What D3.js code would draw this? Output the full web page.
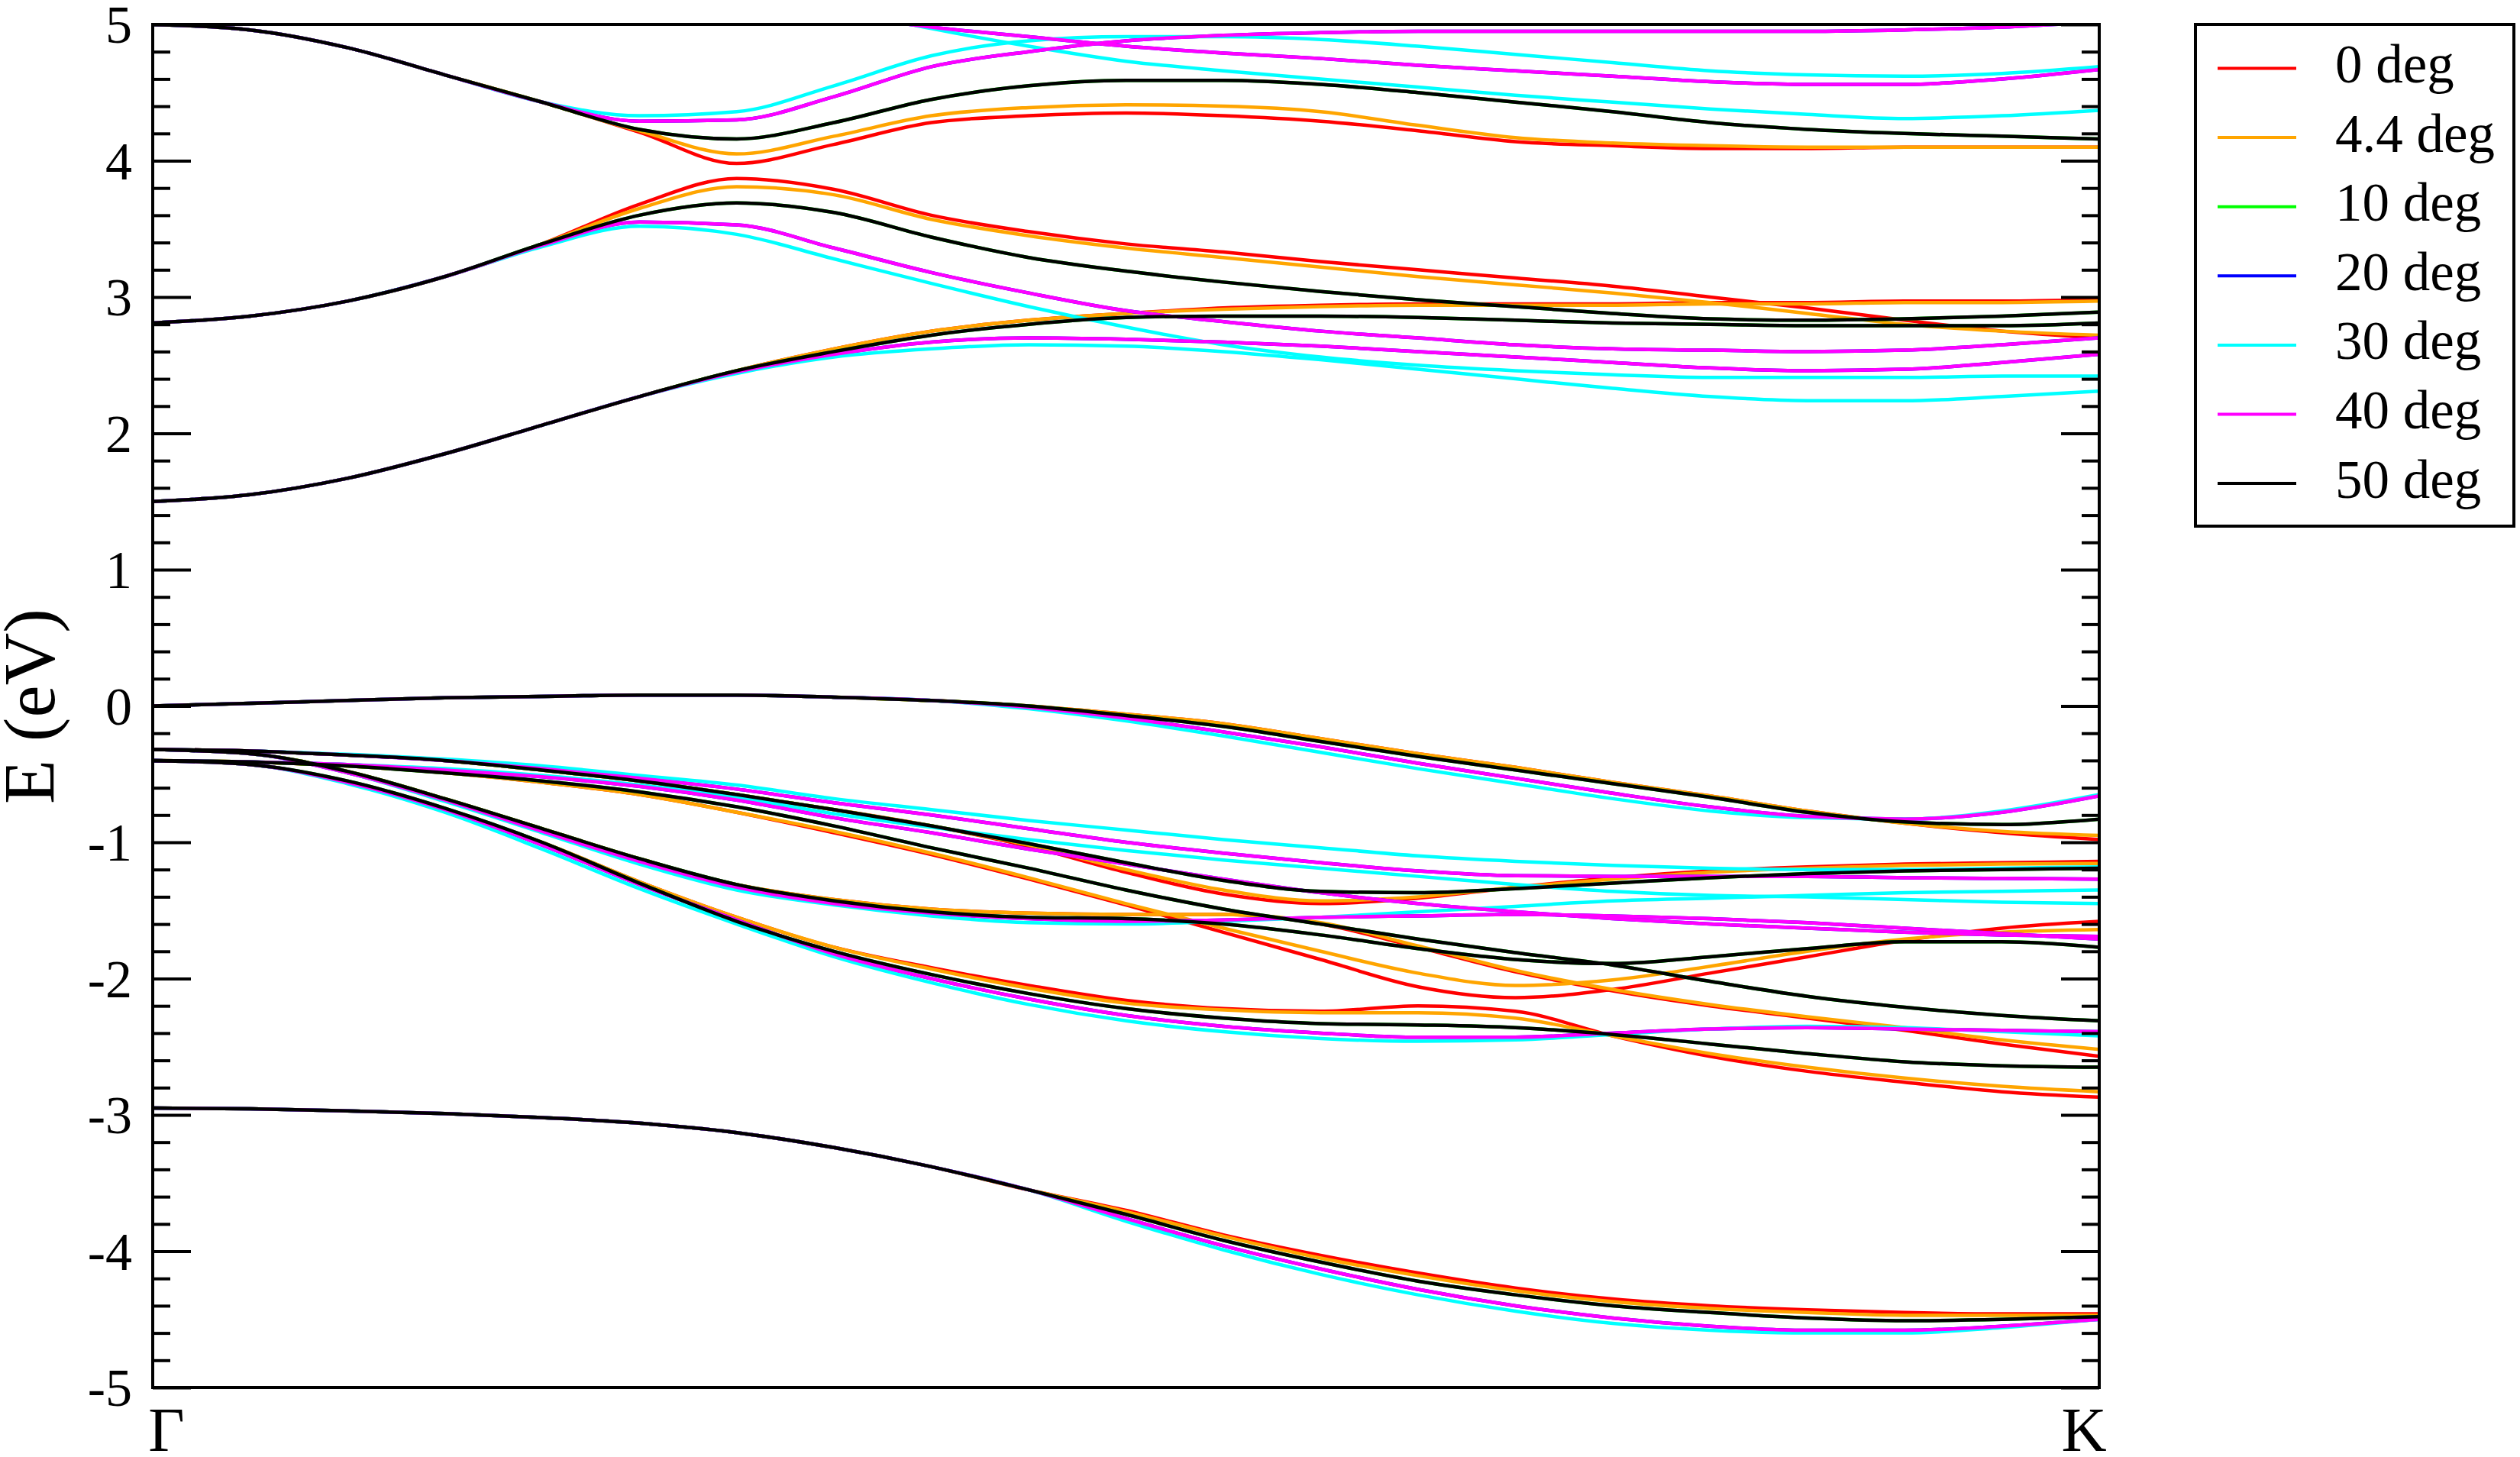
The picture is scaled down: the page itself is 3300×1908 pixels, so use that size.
<!DOCTYPE html>
<html>
<head>
<meta charset="utf-8">
<script src="https://cdn.jsdelivr.net/npm/d3@7"></script>
<style>
  html, body { margin: 0; padding: 0; background: #ffffff; }
  svg { display: block; }
</style>
</head>
<body>
<svg id="chart" width="3300" height="1908"></svg>
<script>
// ---------------- DATA ----------------
// k-path coordinate (Γ = 0, K = 1)
const kPath = [0, 0.05, 0.1, 0.15, 0.2, 0.25, 0.3, 0.35, 0.4, 0.45, 0.5,
               0.55, 0.6, 0.65, 0.7, 0.75, 0.8, 0.85, 0.9, 0.95, 1];
const kTickPositions = [0, 1];
const kTickLabels = ["Γ", "K"];
const yMajorTicks = [-5, -4, -3, -2, -1, 0, 1, 2, 3, 4, 5];
const yLabel = "E (eV)";

const seriesNames = ["0 deg", "4.4 deg", "10 deg", "20 deg", "30 deg", "40 deg", "50 deg"];
const seriesColors = ["#ff0000", "#ffa500", "#00ff00", "#0000ff", "#00ffff", "#ff00ff", "#000000"];

// Bands (eV) sampled on kPath, per twist angle
const bands0deg = [
  [-2.95,-2.955,-2.97,-2.99,-3.02,-3.06,-3.13,-3.24,-3.38,-3.55,-3.70,-3.88,-4.03,-4.16,-4.27,-4.35,-4.40,-4.43,-4.45,-4.46,-4.46],
  [-0.40,-0.43,-0.56,-0.76,-1.00,-1.29,-1.55,-1.77,-1.92,-2.05,-2.16,-2.22,-2.24,-2.20,-2.24,-2.42,-2.57,-2.68,-2.76,-2.83,-2.87],
  [-0.32,-0.35,-0.48,-0.68,-0.90,-1.12,-1.31,-1.42,-1.49,-1.52,-1.53,-1.53,-1.60,-1.77,-1.95,-2.09,-2.20,-2.29,-2.38,-2.48,-2.57],
  [-0.40,-0.41,-0.44,-0.49,-0.56,-0.65,-0.78,-0.93,-1.09,-1.27,-1.46,-1.66,-1.86,-2.06,-2.14,-2.08,-1.96,-1.84,-1.72,-1.63,-1.58],
  [-0.32,-0.33,-0.36,-0.40,-0.47,-0.55,-0.65,-0.76,-0.88,-1.03,-1.22,-1.38,-1.45,-1.41,-1.33,-1.26,-1.21,-1.18,-1.16,-1.15,-1.14],
  [0.00,0.02,0.04,0.06,0.07,0.08,0.08,0.065,0.04,0.00,-0.06,-0.13,-0.24,-0.35,-0.45,-0.56,-0.66,-0.77,-0.86,-0.93,-0.98],
  [1.50,1.55,1.67,1.85,2.06,2.27,2.46,2.62,2.75,2.83,2.88,2.92,2.94,2.95,2.95,2.95,2.96,2.96,2.97,2.97,2.98],
  [2.81,2.86,2.97,3.15,3.39,3.68,3.87,3.79,3.60,3.48,3.39,3.33,3.26,3.20,3.14,3.08,3.00,2.92,2.83,2.75,2.70],
  [5.00,4.96,4.83,4.63,4.43,4.21,3.98,4.12,4.28,4.33,4.35,4.33,4.29,4.22,4.14,4.11,4.09,4.09,4.10,4.10,4.10]
];
const bands4p4deg = [
  [-2.95,-2.955,-2.97,-2.99,-3.02,-3.06,-3.13,-3.24,-3.38,-3.55,-3.71,-3.89,-4.05,-4.18,-4.29,-4.37,-4.42,-4.45,-4.47,-4.47,-4.47],
  [-0.40,-0.43,-0.56,-0.76,-1.00,-1.29,-1.55,-1.77,-1.93,-2.07,-2.18,-2.23,-2.25,-2.25,-2.29,-2.42,-2.55,-2.65,-2.73,-2.79,-2.83],
  [-0.32,-0.35,-0.48,-0.68,-0.90,-1.12,-1.31,-1.42,-1.49,-1.52,-1.53,-1.53,-1.59,-1.76,-1.94,-2.08,-2.19,-2.28,-2.36,-2.45,-2.52],
  [-0.40,-0.41,-0.44,-0.49,-0.56,-0.65,-0.78,-0.92,-1.08,-1.26,-1.45,-1.63,-1.80,-1.96,-2.05,-2.01,-1.91,-1.80,-1.71,-1.66,-1.64],
  [-0.32,-0.33,-0.36,-0.40,-0.47,-0.55,-0.65,-0.76,-0.88,-1.02,-1.20,-1.35,-1.43,-1.40,-1.33,-1.27,-1.22,-1.19,-1.17,-1.16,-1.155],
  [0.00,0.02,0.04,0.06,0.07,0.08,0.08,0.065,0.04,0.00,-0.06,-0.13,-0.24,-0.35,-0.45,-0.56,-0.66,-0.77,-0.86,-0.92,-0.95],
  [1.50,1.55,1.67,1.85,2.06,2.27,2.46,2.62,2.75,2.83,2.88,2.91,2.93,2.94,2.94,2.94,2.95,2.95,2.96,2.96,2.97],
  [2.81,2.86,2.97,3.15,3.39,3.65,3.81,3.75,3.57,3.45,3.36,3.29,3.22,3.15,3.09,3.03,2.96,2.88,2.80,2.75,2.72],
  [5.00,4.96,4.83,4.63,4.43,4.22,4.05,4.18,4.33,4.39,4.41,4.40,4.36,4.26,4.17,4.13,4.11,4.10,4.10,4.10,4.10]
];
const bands30deg = [
  [-2.95,-2.955,-2.97,-2.99,-3.02,-3.06,-3.13,-3.24,-3.38,-3.55,-3.78,-3.99,-4.17,-4.32,-4.44,-4.53,-4.58,-4.60,-4.60,-4.56,-4.50],
  [-0.40,-0.43,-0.57,-0.78,-1.05,-1.34,-1.60,-1.84,-2.03,-2.19,-2.31,-2.39,-2.44,-2.46,-2.45,-2.41,-2.37,-2.35,-2.36,-2.39,-2.42],
  [-0.32,-0.35,-0.49,-0.70,-0.93,-1.16,-1.35,-1.46,-1.54,-1.59,-1.60,-1.58,-1.55,-1.51,-1.47,-1.43,-1.41,-1.39,-1.37,-1.36,-1.35],
  [-0.40,-0.41,-0.43,-0.46,-0.51,-0.58,-0.67,-0.79,-0.89,-0.98,-1.06,-1.13,-1.19,-1.25,-1.31,-1.36,-1.39,-1.40,-1.42,-1.44,-1.45],
  [-0.32,-0.33,-0.355,-0.39,-0.44,-0.51,-0.58,-0.68,-0.76,-0.84,-0.91,-0.98,-1.04,-1.10,-1.14,-1.17,-1.19,-1.20,-1.20,-1.19,-1.18],
  [0.00,0.02,0.04,0.06,0.07,0.08,0.08,0.065,0.04,-0.02,-0.11,-0.22,-0.34,-0.46,-0.57,-0.68,-0.77,-0.82,-0.83,-0.77,-0.65],
  [1.50,1.55,1.67,1.85,2.06,2.27,2.44,2.56,2.62,2.65,2.64,2.60,2.54,2.47,2.40,2.33,2.27,2.24,2.24,2.27,2.31],
  [2.81,2.86,2.97,3.15,3.37,3.52,3.46,3.28,3.10,2.93,2.78,2.65,2.56,2.50,2.46,2.43,2.41,2.41,2.41,2.42,2.42],
  [5.00,4.96,4.83,4.63,4.43,4.33,4.36,4.55,4.77,4.88,4.91,4.91,4.89,4.84,4.78,4.72,4.66,4.63,4.62,4.64,4.69],
  [null,null,null,null,null,null,null,5.12,4.97,4.84,4.73,4.66,4.60,4.54,4.48,4.43,4.38,4.34,4.31,4.33,4.37]
];
const bands40deg = [
  [-2.95,-2.955,-2.97,-2.99,-3.02,-3.06,-3.13,-3.24,-3.38,-3.55,-3.76,-3.96,-4.13,-4.28,-4.40,-4.49,-4.55,-4.58,-4.58,-4.55,-4.50],
  [-0.40,-0.43,-0.56,-0.76,-1.02,-1.31,-1.57,-1.82,-2.00,-2.15,-2.27,-2.35,-2.40,-2.43,-2.43,-2.40,-2.37,-2.36,-2.37,-2.38,-2.39],
  [-0.32,-0.35,-0.49,-0.69,-0.92,-1.14,-1.33,-1.45,-1.52,-1.56,-1.58,-1.57,-1.55,-1.54,-1.53,-1.54,-1.56,-1.59,-1.63,-1.67,-1.71],
  [-0.40,-0.41,-0.43,-0.47,-0.52,-0.59,-0.69,-0.82,-0.93,-1.05,-1.16,-1.27,-1.37,-1.45,-1.51,-1.56,-1.60,-1.63,-1.66,-1.68,-1.69],
  [-0.32,-0.33,-0.36,-0.40,-0.46,-0.53,-0.61,-0.71,-0.80,-0.90,-1.00,-1.08,-1.15,-1.21,-1.245,-1.25,-1.25,-1.25,-1.26,-1.265,-1.27],
  [0.00,0.02,0.04,0.06,0.07,0.08,0.08,0.065,0.04,-0.01,-0.09,-0.19,-0.30,-0.42,-0.53,-0.64,-0.74,-0.81,-0.83,-0.78,-0.66],
  [1.50,1.55,1.67,1.85,2.06,2.27,2.45,2.58,2.67,2.70,2.69,2.67,2.64,2.60,2.56,2.52,2.48,2.46,2.47,2.52,2.58],
  [2.81,2.86,2.97,3.15,3.38,3.55,3.53,3.36,3.18,3.03,2.90,2.82,2.75,2.70,2.65,2.62,2.61,2.60,2.61,2.65,2.70],
  [5.00,4.96,4.83,4.63,4.43,4.29,4.30,4.47,4.69,4.80,4.88,4.92,4.94,4.95,4.95,4.95,4.95,4.95,4.96,4.98,5.02],
  [null,null,null,null,null,null,null,5.08,4.98,4.91,4.84,4.79,4.75,4.70,4.66,4.62,4.58,4.56,4.56,4.60,4.67]
];
const bands50deg = [
  [-2.95,-2.955,-2.97,-2.99,-3.02,-3.06,-3.13,-3.24,-3.38,-3.55,-3.73,-3.92,-4.08,-4.22,-4.32,-4.40,-4.45,-4.49,-4.51,-4.50,-4.48],
  [-0.40,-0.43,-0.55,-0.75,-1.00,-1.30,-1.58,-1.80,-1.97,-2.11,-2.22,-2.29,-2.33,-2.34,-2.36,-2.41,-2.48,-2.55,-2.61,-2.64,-2.65],
  [-0.32,-0.35,-0.48,-0.68,-0.90,-1.12,-1.31,-1.43,-1.51,-1.55,-1.56,-1.60,-1.68,-1.78,-1.86,-1.89,-1.84,-1.78,-1.73,-1.73,-1.77],
  [-0.40,-0.41,-0.44,-0.49,-0.55,-0.63,-0.74,-0.88,-1.04,-1.19,-1.35,-1.49,-1.60,-1.71,-1.81,-1.90,-2.02,-2.13,-2.21,-2.27,-2.31],
  [-0.32,-0.33,-0.36,-0.40,-0.47,-0.55,-0.65,-0.76,-0.88,-1.01,-1.15,-1.28,-1.36,-1.37,-1.34,-1.30,-1.26,-1.23,-1.21,-1.20,-1.19],
  [0.00,0.02,0.04,0.06,0.07,0.08,0.08,0.065,0.04,0.00,-0.07,-0.15,-0.26,-0.37,-0.47,-0.57,-0.67,-0.78,-0.85,-0.87,-0.83],
  [1.50,1.55,1.67,1.85,2.06,2.27,2.46,2.60,2.72,2.80,2.85,2.86,2.86,2.85,2.83,2.81,2.80,2.79,2.79,2.79,2.81],
  [2.81,2.86,2.97,3.15,3.39,3.60,3.69,3.62,3.44,3.29,3.19,3.11,3.04,2.98,2.93,2.88,2.84,2.83,2.84,2.86,2.89],
  [5.00,4.96,4.83,4.63,4.43,4.23,4.16,4.28,4.45,4.55,4.59,4.59,4.56,4.50,4.43,4.36,4.28,4.23,4.20,4.18,4.16]
];
// θ and 60°−θ give identical bands: 10° ≡ 50°, 20° ≡ 40° (drawn underneath, hence hidden)
const bands10deg = bands50deg;
const bands20deg = bands40deg;
const seriesBands = [bands0deg, bands4p4deg, bands10deg, bands20deg, bands30deg, bands40deg, bands50deg];

// ---------------- CHART ----------------
const FONT = "'Liberation Serif', 'Times New Roman', Times, serif";
const svg = d3.select("#chart");
svg.append("rect").attr("width", 3300).attr("height", 1908).attr("fill", "#fff");

const plot = { left: 200, right: 2749, top: 32, bottom: 1817 };
const x = d3.scaleLinear().domain([0, 1]).range([plot.left, plot.right]);
const y = d3.scaleLinear().domain([-5, 5]).range([plot.bottom, plot.top]);

svg.append("defs").append("clipPath").attr("id", "plotclip")
  .append("rect")
  .attr("x", plot.left).attr("y", plot.top)
  .attr("width", plot.right - plot.left).attr("height", plot.bottom - plot.top);

const line = d3.line()
  .defined(d => d[1] !== null)
  .x(d => x(d[0]))
  .y(d => y(d[1]))
  .curve(d3.curveMonotoneX);

const gLines = svg.append("g").attr("clip-path", "url(#plotclip)");
seriesBands.forEach((bands, si) => {
  const g = gLines.append("g").attr("class", "series-" + si);
  bands.forEach(band => {
    g.append("path")
      .datum(kPath.map((k, i) => [k, band[i]]))
      .attr("d", line)
      .attr("fill", "none")
      .attr("stroke", seriesColors[si])
      .attr("stroke-width", 4.5)
      .attr("stroke-linejoin", "round");
  });
});

// minor ticks
const yMinorTicks = d3.range(-50, 51, 2).map(v => v / 10)
  .filter(v => Math.abs(v - Math.round(v)) > 1e-6);

function styleAxis(g) {
  g.select(".domain").remove();
  g.selectAll(".tick line").attr("stroke", "#000").attr("stroke-width", 4);
}

// left axis: majors with labels
const leftMajor = svg.append("g").attr("transform", `translate(${plot.left},0)`)
  .call(d3.axisLeft(y).tickValues(yMajorTicks).tickSizeInner(-50).tickSizeOuter(0)
    .tickPadding(27).tickFormat(d => String(d)));
styleAxis(leftMajor);
leftMajor.attr("font-family", FONT).attr("font-size", 70);
leftMajor.selectAll(".tick text")
  .attr("fill", "#000").attr("dy", "0.34em")
  .style("font-family", FONT).style("font-size", "70px");

const leftMinor = svg.append("g").attr("transform", `translate(${plot.left},0)`)
  .call(d3.axisLeft(y).tickValues(yMinorTicks).tickSizeInner(-23).tickSizeOuter(0).tickFormat(""));
styleAxis(leftMinor);

// right axis (ticks inward, no labels)
const rightMajor = svg.append("g").attr("transform", `translate(${plot.right},0)`)
  .call(d3.axisRight(y).tickValues(yMajorTicks).tickSizeInner(-50).tickSizeOuter(0).tickFormat(""));
styleAxis(rightMajor);
const rightMinor = svg.append("g").attr("transform", `translate(${plot.right},0)`)
  .call(d3.axisRight(y).tickValues(yMinorTicks).tickSizeInner(-23).tickSizeOuter(0).tickFormat(""));
styleAxis(rightMinor);

// frame
svg.append("rect")
  .attr("x", plot.left).attr("y", plot.top)
  .attr("width", plot.right - plot.left).attr("height", plot.bottom - plot.top)
  .attr("fill", "none").attr("stroke", "#000").attr("stroke-width", 4);

// x labels (Γ, K)
const kLabelOffsets = [18, -20];
svg.append("g").selectAll("text").data(kTickPositions).join("text")
  .attr("x", (d, i) => x(d) + kLabelOffsets[i])
  .attr("y", 1900)
  .attr("text-anchor", "middle")
  .style("font-family", FONT).style("font-size", "82px").attr("fill", "#000")
  .text((d, i) => kTickLabels[i]);

// y label
svg.append("text")
  .attr("transform", "translate(71,925) rotate(-90)")
  .attr("text-anchor", "middle")
  .style("font-family", FONT).style("font-size", "95px").attr("fill", "#000")
  .text(yLabel);

// legend
const legend = svg.append("g");
legend.append("rect")
  .attr("x", 2875).attr("y", 32).attr("width", 417).attr("height", 657)
  .attr("fill", "#fff").attr("stroke", "#000").attr("stroke-width", 4);
seriesNames.forEach((name, i) => {
  const ly = 89.5 + i * 90.6;
  legend.append("line")
    .attr("x1", 2904).attr("x2", 3007).attr("y1", ly).attr("y2", ly)
    .attr("stroke", seriesColors[i]).attr("stroke-width", 4);
  legend.append("text")
    .attr("x", 3058).attr("y", ly + 18.5)
    .style("font-family", FONT).style("font-size", "71px").attr("fill", "#000")
    .text(name);
});
</script>
</body>
</html>
